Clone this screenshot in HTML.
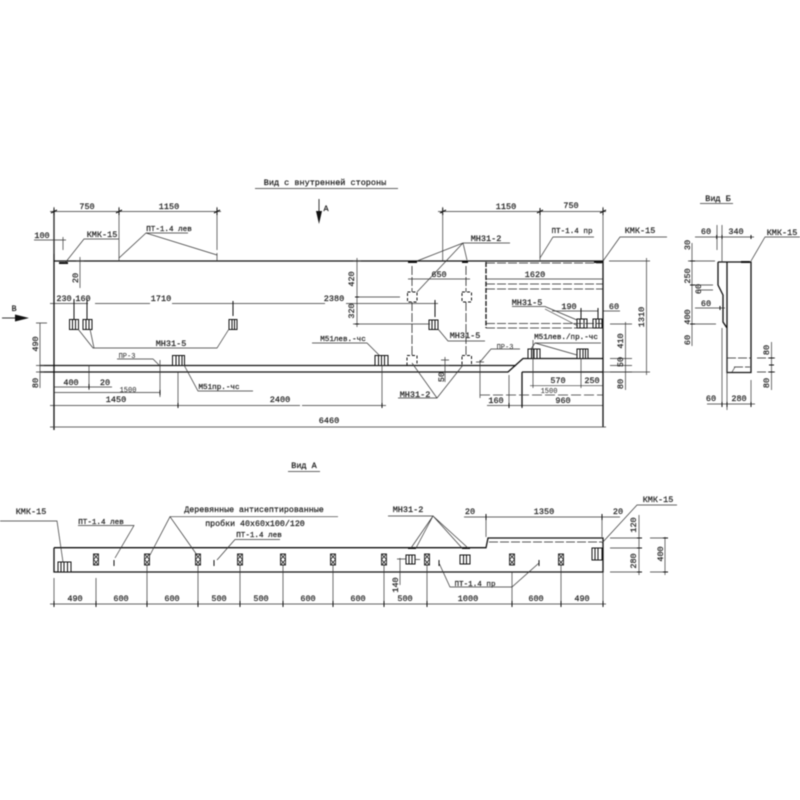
<!DOCTYPE html>
<html><head><meta charset="utf-8"><style>
html,body{margin:0;padding:0;background:#fff;width:800px;height:800px;overflow:hidden}
svg{display:block;filter:blur(.4px)}
text{font-family:"Liberation Mono","DejaVu Sans Mono",monospace;font-size:8.5px;font-weight:normal;fill:#222;stroke:#222;stroke-width:.22;text-anchor:middle}
.s{font-size:7px;stroke-width:0}
.i{font-size:8.3px}
.m{font-size:7.6px}
path,polyline,line{fill:none;stroke:#222;stroke-width:.9}
.t{stroke-width:1.3;stroke:#111}
.n{stroke-width:.7;stroke:#333}
.d{stroke-dasharray:9 2;stroke-width:.8}
.h{stroke-width:2;stroke:#111}
.f{fill:#111;stroke:none}
.b{fill:#fff;stroke:#111;stroke-width:1}
.st{stroke:#111;stroke-width:1}
</style></head><body>
<svg width="800" height="800" viewBox="0 0 800 800" xmlns="http://www.w3.org/2000/svg">
<rect width="800" height="800" fill="#fff"/>

<!-- Title -->
<text x="325" y="185">Вид с внутренней стороны</text>
<path class="n" d="M255 188.500H398"/>
<path d="M319 199V213"/><path class="f" d="M316 211h6l-3 13z"/>
<text x="326" y="211">А</text>
<text x="14" y="311">В</text>
<path d="M2 318H18"/><path class="f" d="M15 314.500v7l14-3.500z"/>

<!-- Main beam -->
<path class="t" d="M54 261H603V427M54 210V430"/>
<path class="t" d="M40 365.500H516M40 372H508L523 358.500H603M522 372H603"/>
<path class="t" d="M522 372V407"/>
<path class="h" d="M59 263H68M408 262H417M462 262H468M594 262H603"/>

<!-- Dimensions top left -->
<path class="n" d="M50 211.500H221M54 207V254M119 207V261M217 207V250M217 253V261"/>
<path class="st" d="M54 208v7M119 208v7M217 208v7M51 213l6-3M116 213l6-3M214 213l6-3"/>
<text x="87" y="209">750</text><text x="169" y="209">1150</text>
<text x="42" y="238">100</text>
<path class="n" d="M34 240H66M63 237V250M80 257V288M76 261H84"/>
<text x="102" y="237">КМК-15</text>
<path class="n" d="M119 239H84L65 263"/>
<text transform="translate(78,278) rotate(-90)">20</text>
<text x="169" y="231" class="m">ПТ-1.4 лев</text>
<path class="n" d="M146 233H188M119 258L146 233L217 255"/>

<!-- Dimensions interior row -->
<path class="n" d="M50 303.500H88M95 303.500H150M172 303.500H325M346 303.500H438"/>
<path class="st" d="M74 299V319M87 299V319M233 301V316M435 300V317M54 301v5"/>
<text x="64" y="301">230</text><text x="83" y="301">160</text>
<text x="161" y="301">1710</text><text x="334" y="301">2380</text>

<!-- MH31-5 left squares -->
<g class="b"><rect class="b" x="69.500" y="319.500" width="9" height="10"/><rect class="b" x="83" y="319.500" width="9" height="10"/><rect class="b" x="229" y="319.500" width="8" height="10"/>
<rect class="b" x="172.500" y="355.500" width="12" height="10"/><rect class="b" x="375" y="355.500" width="13" height="10"/><rect class="b" x="429" y="320" width="9" height="9.500"/>
<rect class="b" x="528" y="349" width="12" height="9.500"/><rect class="b" x="577" y="349" width="11" height="9.500"/>
<rect class="b" x="577" y="319" width="10" height="9"/><rect class="b" x="593" y="319" width="9" height="9"/></g>
<path class="st" d="M72.500 320v9M75.500 320v9M86 320v9M89 320v9M232 320v9M234.500 320v9M176 356v9M179 356v9M182 356v9M378.500 356v9M381.500 356v9M384.500 356v9M432 320v9M435 320v9M531.500 349.500v9M534 349.500v9M537 349.500v9M580 349.500v9M583 349.500v9M585.500 349.500v9M580 319.500v8M584 319.500v8M596 319.500v8M599 319.500v8"/>
<path class="n" d="M78 329L93 348H217L229 329M90 329L94 348"/>
<text x="171" y="346">МН31-5</text>

<!-- Left dims -->
<path class="n" d="M40 323V388M36 323H47M36 365.500H44M36 372H44"/>
<text transform="translate(38,344) rotate(-90)">490</text>
<text transform="translate(38,383) rotate(-90)">80</text>
<text x="127" y="358" class="s">ПР-3</text>
<path class="n" d="M117 359H153L159 365"/>
<path class="n" d="M160 360V397M89 365V390"/>
<path class="n" d="M54 387H112M54 392.500H160"/>
<text x="71" y="385">400</text><text x="105" y="385">20</text>
<text x="128" y="392" class="s">1500</text>
<path class="n" d="M178 372V408M382 365V408"/>
<path class="n" d="M50 405.500H300M302 405.500H386"/>
<path class="st" d="M54 403v5M178 403v5M382 403v5M89 384v5M160 390v5M54 424v6"/>
<text x="116" y="402">1450</text><text x="280" y="402">2400</text>
<path class="n" d="M50 427H606"/>
<text x="329" y="423">6460</text>
<text x="219" y="389" class="m">М51пр.-чс</text>
<path class="n" d="M184 365L198 391H253"/>

<!-- Center -->
<path class="n" d="M442.700 207V261M438 211.500H606M540 211V260M603 207V261"/>
<path class="st" d="M442.700 208v7M540 208v7M603 208v7M440 213l6-3M537 213l6-3M600 213l6-3"/>
<text x="506" y="209">1150</text><text x="571" y="208">750</text>
<text x="486" y="241">МН31-2</text>
<path class="n" d="M510 243H463L417 261M463 243L417 292M463 243L467 260"/>
<g stroke-dasharray="3 2" fill="none" stroke="#111" stroke-width="1">
<rect x="407.500" y="292" width="9.500" height="10"/><rect x="462" y="292" width="9.500" height="10"/>
<rect x="407" y="355.500" width="10" height="10"/><rect x="462" y="355.500" width="9.500" height="10"/>
</g>
<path class="d" d="M412 266V292M412 302V355M466 266V292M466 302V355"/>
<path class="n" d="M408 279H470M486 279H603"/>
<text x="439" y="277">650</text><text x="535" y="277">1620</text>

<!-- Dashed rect -->
<path class="t" stroke-dasharray="5 1.500" d="M486 262V328"/>
<path class="d" d="M486 284H603M486 289H603M486 323.500H603M486 328H603M486 263H602"/>

<path class="n" d="M357 258V327M353 261H361M357 297H400M353 324H430"/>
<path class="st" d="M355 297h4M355 324h4"/>
<text transform="translate(354,279) rotate(-90)">420</text>
<text transform="translate(354,311) rotate(-90)">320</text>
<path class="n" d="M438 329L448 341H485"/>
<text x="465" y="338">МН31-5</text>
<text x="343" y="341" class="m">М51лев.-чс</text>
<path class="n" d="M312 343H367L380 356"/>
<text x="415" y="397">МН31-2</text>
<path class="n" d="M412 363L437 398L463 365M398 398H437"/>
<path class="n" d="M445 357V382M441 360h8M441 365.500h8"/>
<text transform="translate(444,377) rotate(-90)">50</text>
<text x="505" y="349" class="s">ПР-3</text>
<path class="n" d="M520 349H491L480 362M480 360V398"/>
<path class="n" d="M509 375V408M476 362H484"/>
<text x="496" y="403">160</text><text x="563" y="403">960</text>
<path class="n" d="M487 405.500H603"/>
<path class="st" d="M509 403v5M522 403v5M603 403v5"/>
<path class="n" stroke-dasharray="10 3" d="M480 395H603"/>
<text x="549" y="393" class="s">1500</text>
<path class="n" d="M533 340V388M581 358V388M530 385.700H603"/>
<text x="558" y="383">570</text><text x="592" y="383">250</text>
<text x="566" y="339" class="m">М51лев./пр.-чс</text>
<path class="n" d="M601 343H535L531 349M535 343L577 355"/>
<text x="527" y="305">МН31-5</text>
<path class="n" d="M512 306.500H545L577 320M545 309L578 326"/>
<text x="569" y="309">190</text><text x="614" y="309">60</text>
<path class="n" d="M552 311H598M603 311H620"/>
<path class="st" d="M581 308v5M598 308v5"/>
<path class="st" d="M581 311V319M598 311V319"/>
<path class="n" d="M625.500 322V390M610 324H632M610 358.500H632M610 365.500H632M610 372H632"/>
<text transform="translate(623,341) rotate(-90)">410</text>
<text transform="translate(623,362) rotate(-90)">50</text>
<text transform="translate(623,384) rotate(-90)">80</text>
<path class="n" d="M646.500 258V375M609 261H650M603 372H650"/>
<text transform="translate(644,317) rotate(-90)">1310</text>
<text x="572" y="233" class="m">ПТ-1.4 пр</text>
<path class="n" d="M594 237H553L540 258"/>
<text x="640" y="233">КМК-15</text>
<path class="n" d="M667 237H620L603 261"/>

<!-- Vid B -->
<text x="718" y="201">Вид Б</text>
<path class="n" d="M700 203.500H733"/>
<path class="t" d="M718 262H751V372.500H727V262M718 262V285L723 295V322L727 328"/>
<path class="h" d="M741 262H750"/>
<path class="n" d="M722 328V403M727 328V410M751 380V403M717 225V250M722 225V262"/>
<path class="n" d="M695 237H754"/>
<path class="st" d="M716.700 235v4M722 235v4M751 235v4"/>
<text x="706" y="234">60</text><text x="736" y="234">340</text>
<text x="782" y="235">КМК-15</text>
<path class="n" d="M800 237H765L751 261"/>
<path class="n" d="M707 404H755M695 401"/>
<path class="st" d="M722 402v5M727 402v5M751 402v5"/>
<text x="711" y="401">60</text><text x="739" y="401">280</text>
<path class="n" d="M692 243V346M688 261H715M690 285H713M697 290H713M690 324H716M695 308H725"/>
<path class="st" d="M690 261h5M690 285h5M690 324h5M720 306v4"/>
<text x="706" y="306">60</text>
<text transform="translate(690,245) rotate(-90)">30</text>
<text transform="translate(690,276) rotate(-90)">250</text>
<text transform="translate(701,289) rotate(-90)">60</text>
<text transform="translate(690,317) rotate(-90)">400</text>
<text transform="translate(690,340) rotate(-90)">60</text>
<path class="d" stroke-dasharray="6 2" d="M727 358H751M734 367H750M757 358H775M757 372H775"/>
<path class="n" d="M732 372L735 367"/>
<path class="n" d="M771.500 342V390"/>
<path class="st" d="M769 358h5M769 365h5M769 372h5"/>
<text transform="translate(769,350) rotate(-90)">80</text>
<text transform="translate(769,383) rotate(-90)">80</text>

<!-- Vid A -->
<text x="304" y="468">Вид А</text>
<path class="n" d="M288 471.500H320"/>
<path class="t" d="M54 547.700H486L488 538H603V572H54V547.700"/>
<path class="d" stroke-dasharray="8 2" d="M489 542H602"/>
<path class="h" d="M408 548H416M462 548H470"/>

<rect class="b" x="58" y="562" width="13" height="10"/>
<path class="st" d="M61 562v10M64 562v10M67.500 562v10"/>
<rect class="b" x="592" y="548" width="10" height="12"/>
<path class="st" d="M595 548v12M598 548v12"/>
<rect class="b" x="406" y="555" width="9" height="9"/><path class="st" d="M409 555v9M412 555v9"/>
<rect class="b" x="460" y="555" width="10" height="9"/><path class="st" d="M463.500 555v9M466.500 555v9"/>

<g fill="none" stroke="#111" stroke-width="1">
<path d="M93.500 554h5v11h-5zM93.500 554l5 5.500l-5 5.500M98.500 554l-5 5.500l5 5.500"/>
<path d="M144.500 554h5v11h-5zM144.500 554l5 5.500l-5 5.500M149.500 554l-5 5.500l5 5.500"/>
<path d="M195.500 554h5v11h-5zM195.500 554l5 5.500l-5 5.500M200.500 554l-5 5.500l5 5.500"/>
<path d="M237.500 554h5v11h-5zM237.500 554l5 5.500l-5 5.500M242.500 554l-5 5.500l5 5.500"/>
<path d="M280.500 554h5v11h-5zM280.500 554l5 5.500l-5 5.500M285.500 554l-5 5.500l5 5.500"/>
<path d="M330.500 554h5v11h-5zM330.500 554l5 5.500l-5 5.500M335.500 554l-5 5.500l5 5.500"/>
<path d="M381.500 554h5v11h-5zM381.500 554l5 5.500l-5 5.500M386.500 554l-5 5.500l5 5.500"/>
<path d="M424.500 554h5v11h-5zM424.500 554l5 5.500l-5 5.500M429.500 554l-5 5.500l5 5.500"/>
<path d="M509.500 554h5v11h-5zM509.500 554l5 5.500l-5 5.500M514.500 554l-5 5.500l5 5.500"/>
<path d="M558.500 554h5v11h-5zM558.500 554l5 5.500l-5 5.500M563.500 554l-5 5.500l5 5.500"/>
</g>
<path class="st" d="M114 560v6M214 560v6M439 560v6M539 560v6"/>

<path class="n" d="M50 604H606M54 578V606M96 578V606M147 565V606M198 565V606M240 565V606M283 565V606M333 565V606M384 565V606M427 565V606M512 572V606M561 565V606M603 572V606"/>
<path class="st" d="M54 601v6M96 601v6M147 601v6M198 601v6M240 601v6M283 601v6M333 601v6M384 601v6M427 601v6M512 601v6M561 601v6M603 601v6"/>
<text x="75" y="601">490</text><text x="121" y="601">600</text><text x="172" y="601">600</text><text x="219" y="601">500</text><text x="261" y="601">500</text><text x="308" y="601">600</text><text x="358" y="601">600</text><text x="405" y="601">500</text><text x="468" y="601">1000</text><text x="536" y="601">600</text><text x="582" y="601">490</text>

<text x="31" y="514">КМК-15</text>
<path class="n" d="M0 521H57L63 562"/>
<text x="101" y="524" class="m">ПТ-1.4 лев</text>
<path class="n" d="M78 525.500H134L115 558"/>
<text x="254" y="512" class="i">Деревянные антисептированные</text>
<path class="n" d="M170 516.700H338M150 555L170 516.700L197 555"/>
<text x="255" y="526" class="i">пробки 40х60х100/120</text>
<text x="259" y="537" class="m">ПТ-1.4 лев</text>
<path class="n" d="M280 539.500H235L217 560"/>
<text x="408" y="512">МН31-2</text>
<path class="n" d="M388 516H433L411 548M433 516L416 548M433 516L462 548M433 516L468 548"/>
<text x="470" y="514">20</text><text x="544" y="514">1350</text><text x="618" y="514">20</text>
<path class="n" d="M464 517H620M486 514V537M602 514V537"/>
<path class="st" d="M486 514v6M602 514v6"/>
<text x="658" y="502">КМК-15</text>
<path class="n" d="M677 505H637L602 543"/>
<path class="n" d="M639 515V575M610 538H642M610 548H642M610 572H642M665 537V575M650 538H668M650 572H668"/>
<path class="st" d="M637 538h5M637 548h5M637 572h5M663 538h5M663 572h5"/>
<text transform="translate(636,525) rotate(-90)">120</text>
<text transform="translate(636,561) rotate(-90)">280</text>
<text transform="translate(663,554) rotate(-90)">400</text>
<text x="475" y="586" class="m">ПТ-1.4 пр</text>
<path class="n" d="M439 563L450 587H512L539 563"/>
<path class="n" d="M400 558V585M397 559H406M415 559.500H420"/>
<text transform="translate(398,585) rotate(-90)">140</text>
</svg>
</body></html>
